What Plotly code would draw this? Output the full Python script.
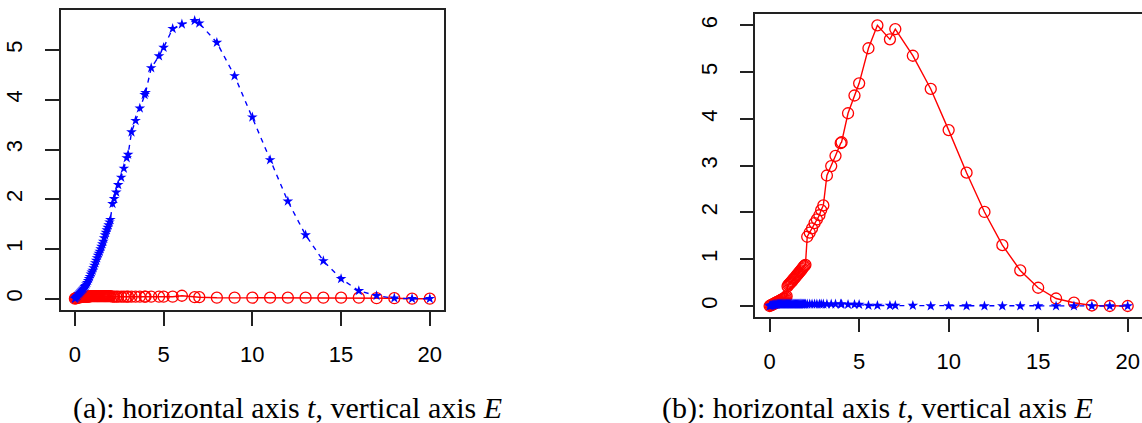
import plotly.graph_objects as go

# ---------------- data: panel (a) ----------------
t_a = [0.00, 0.05, 0.10, 0.15, 0.20, 0.25, 0.30, 0.35, 0.40, 0.45,
       0.50, 0.55, 0.60, 0.65, 0.70, 0.75, 0.80, 0.85, 0.90, 0.95,
       1.00, 1.05, 1.10, 1.15, 1.20, 1.25, 1.30, 1.35, 1.40, 1.45,
       1.50, 1.55, 1.60, 1.65, 1.70, 1.75, 1.80, 1.85, 1.90, 1.95,
       2.00, 2.12, 2.21, 2.33, 2.44, 2.61, 2.76, 2.92, 3.00, 3.19,
       3.42, 3.66, 3.93, 3.98, 4.30, 4.74, 5.00, 5.51, 6.03, 6.75,
       7.01, 8, 9, 10, 11, 12, 13, 14, 15, 16, 17, 18, 19, 20]
E_a_blue = [0.00, 0.02, 0.04, 0.06, 0.09, 0.11, 0.13, 0.15, 0.17, 0.19,
            0.21, 0.24, 0.26, 0.29, 0.32, 0.36, 0.40, 0.44, 0.49, 0.53,
            0.57, 0.62, 0.67, 0.72, 0.77, 0.82, 0.87, 0.91, 0.95, 1.00,
            1.05, 1.10, 1.15, 1.22, 1.28, 1.33, 1.38, 1.43, 1.48, 1.54,
            1.59, 1.91, 2.01, 2.14, 2.29, 2.44, 2.62, 2.83, 2.90, 3.35,
            3.58, 3.83, 4.10, 4.14, 4.64, 4.88, 5.05, 5.43, 5.52, 5.59,
            5.54, 5.15, 4.48, 3.65, 2.79, 1.96, 1.28, 0.76, 0.40, 0.16,
            0.06, 0.01, 0.00, 0.00]
E_a_red = [0.00, 0.01, 0.01, 0.02, 0.02, 0.03, 0.03, 0.03, 0.04, 0.04,
           0.04, 0.04, 0.04, 0.04, 0.04, 0.04, 0.04, 0.05, 0.05, 0.05,
           0.05, 0.05, 0.05, 0.05, 0.05, 0.05, 0.05, 0.05, 0.05, 0.05,
           0.05, 0.05, 0.05, 0.05, 0.05, 0.05, 0.05, 0.05, 0.05, 0.05,
           0.05, 0.04, 0.04, 0.04, 0.04, 0.04, 0.04, 0.04, 0.04, 0.04,
           0.04, 0.04, 0.04, 0.04, 0.04, 0.04, 0.04, 0.04, 0.06, 0.03,
           0.03, 0.02, 0.02, 0.02, 0.02, 0.02, 0.02, 0.02, 0.02, 0.02,
           0.01, 0.01, 0.00, 0.00]

# ---------------- data: panel (b) ----------------
t_b = [0.00, 0.05, 0.10, 0.15, 0.20, 0.25, 0.30, 0.35, 0.40, 0.45,
       0.50, 0.55, 0.60, 0.65, 0.70, 0.75, 0.80, 0.85, 0.90, 0.95,
       1.00, 1.05, 1.10, 1.15, 1.20, 1.25, 1.30, 1.35, 1.40, 1.45,
       1.50, 1.55, 1.60, 1.65, 1.70, 1.75, 1.80, 1.85, 1.90, 1.95,
       2.00, 2.10, 2.24, 2.37, 2.51, 2.64, 2.78, 2.88, 3.00, 3.20,
       3.44, 3.68, 3.97, 4.02, 4.38, 4.74, 5.00, 5.52, 6.02, 6.72,
       7.02, 8, 9, 10, 11, 12, 13, 14, 15, 16, 17, 18, 19, 20]
E_b_red = [0.00, 0.01, 0.02, 0.03, 0.04, 0.05, 0.06, 0.07, 0.08, 0.09,
           0.10, 0.11, 0.12, 0.13, 0.14, 0.15, 0.16, 0.17, 0.19, 0.21,
           0.42, 0.45, 0.47, 0.49, 0.51, 0.53, 0.56, 0.58, 0.60, 0.62,
           0.65, 0.67, 0.69, 0.72, 0.74, 0.76, 0.79, 0.81, 0.84, 0.86,
           0.88, 1.48, 1.57, 1.66, 1.77, 1.85, 1.94, 2.05, 2.15, 2.79,
           2.99, 3.21, 3.48, 3.50, 4.12, 4.50, 4.76, 5.51, 6.00, 5.70,
           5.92, 5.35, 4.64, 3.76, 2.85, 2.01, 1.30, 0.76, 0.39, 0.16,
           0.07, 0.01, 0.00, 0.00]
E_b_blue = [0.00, 0.01, 0.01, 0.02, 0.02, 0.03, 0.03, 0.03, 0.03, 0.04,
            0.04, 0.04, 0.04, 0.04, 0.04, 0.04, 0.04, 0.04, 0.04, 0.04,
            0.04, 0.04, 0.04, 0.04, 0.04, 0.04, 0.04, 0.04, 0.04, 0.04,
            0.04, 0.04, 0.04, 0.04, 0.04, 0.04, 0.04, 0.04, 0.04, 0.04,
            0.04, 0.04, 0.04, 0.04, 0.04, 0.04, 0.04, 0.04, 0.04, 0.04,
            0.04, 0.04, 0.04, 0.04, 0.03, 0.03, 0.03, 0.01, 0.01, 0.01,
            0.01, 0.01, 0.00, 0.00, 0.00, 0.00, 0.00, 0.00, 0.00, 0.00,
            0.00, 0.00, 0.00, 0.00]

x_ticks = [0, 5, 10, 15, 20]
y_ticks_a = [0, 1, 2, 3, 4, 5]
y_ticks_b = [0, 1, 2, 3, 4, 5, 6]
captions = ["(a): horizontal axis <i>t</i>, vertical axis <i>E</i>",
            "(b): horizontal axis <i>t</i>, vertical axis <i>E</i>"]

RED = "#ff0000"
BLUE = "#0000ff"
W, H = 1142, 423

fig = go.Figure()

def red_trace(x, y, xa, ya):
    return go.Scatter(x=x, y=y, xaxis=xa, yaxis=ya, mode="lines+markers",
                      line=dict(color=RED, width=1.4),
                      marker=dict(symbol="circle-open", size=11, color=RED,
                                  line=dict(color=RED, width=1.3)),
                      showlegend=False, cliponaxis=False)

def blue_trace(x, y, xa, ya):
    return go.Scatter(x=x, y=y, xaxis=xa, yaxis=ya, mode="lines+markers",
                      line=dict(color=BLUE, width=1.4, dash="5px,5px"),
                      marker=dict(symbol="star", size=8, color=BLUE,
                                  line=dict(width=0)),
                      showlegend=False, cliponaxis=False)

fig.add_trace(red_trace(t_a, E_a_red, "x", "y"))
fig.add_trace(blue_trace(t_a, E_a_blue, "x", "y"))
fig.add_trace(red_trace(t_b, E_b_red, "x2", "y2"))
fig.add_trace(blue_trace(t_b, E_b_blue, "x2", "y2"))

tickfont = dict(family="Liberation Sans, Arial, sans-serif", size=22, color="#000")
axcommon = dict(showgrid=False, zeroline=False, showline=True, linecolor="#222",
                linewidth=1.5, ticks="outside", ticklen=14, tickwidth=1.5,
                tickcolor="#222", tickfont=tickfont)

fig.update_layout(
    width=W, height=H,
    margin=dict(l=0, r=0, t=0, b=0),
    paper_bgcolor="white", plot_bgcolor="white",
    xaxis=dict(domain=[60.7 / W, 444 / W], range=[-0.8, 20.8], anchor="y",
               tickvals=x_ticks, mirror=True, ticklabelstandoff=10, **axcommon),
    yaxis=dict(domain=[(H - 310) / H, (H - 10) / H], range=[-0.227, 5.805],
               anchor="x", tickvals=y_ticks_a, mirror=True, tickangle=-90,
               ticklabelstandoff=14, **axcommon),
    xaxis2=dict(domain=[755.3 / W, 1.0], range=[-0.8, 20.8], anchor="y2",
                tickvals=x_ticks, mirror=True, ticklabelstandoff=10, **axcommon),
    yaxis2=dict(domain=[(H - 316.7) / H, (H - 14) / H], range=[-0.229, 6.242],
                anchor="x2", tickvals=y_ticks_b, mirror=False, tickangle=-90,
                ticklabelstandoff=14, **axcommon),
)

capfont = dict(family="Liberation Serif, Times New Roman, serif", size=30, color="#000")
fig.add_annotation(text=captions[0], xref="paper", yref="paper",
                   x=287.5 / W, y=(H - 408) / H, xanchor="center", yanchor="middle",
                   showarrow=False, font=capfont)
fig.add_annotation(text=captions[1], xref="paper", yref="paper",
                   x=877.5 / W, y=(H - 408) / H, xanchor="center", yanchor="middle",
                   showarrow=False, font=capfont)

fig.write_html("out.html",
               config={"displayModeBar": False},
               post_script="document.body.style.margin='0';"
                           "document.body.style.overflow='hidden';")
